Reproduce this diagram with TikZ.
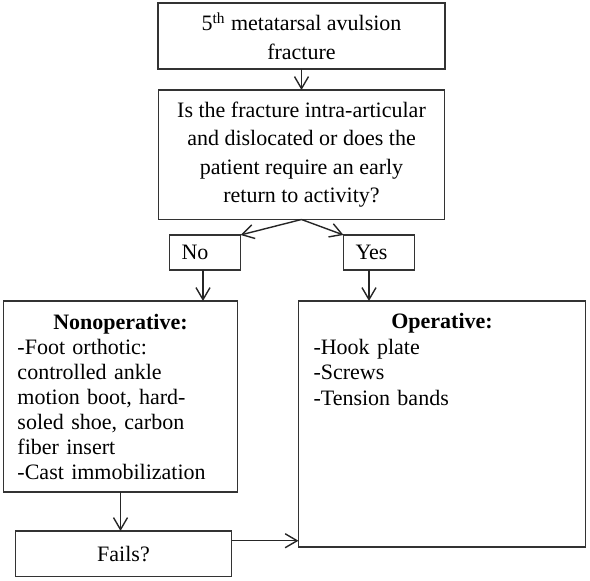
\documentclass[tikz,border=0pt]{standalone}
\usepackage{fontspec}
\setmainfont{Liberation Serif}
\usetikzlibrary{positioning, arrows.meta}

\tikzset{
	box/.style={draw=black!80, line width=0.7pt, outer sep=0pt, font=\fontsize{11pt}{14.2pt}\selectfont},
	arr/.style={draw=black!85, line width=0.7pt, -{Straight Barb[length=6pt, width=7pt]}},
}

\begin{document}
\begin{tikzpicture}
		\useasboundingbox (0,0) rectangle (295pt,-290.5pt);
		\node[] (start) at (150.75pt,-18pt) [box, minimum width=143.5pt, minimum height=33pt, align=center] {5\textsuperscript{th} metatarsal avulsion\\ fracture};
		\node[below=10.5pt of start] (question) [box, minimum width=143pt, minimum height=64.75pt, align=center] {Is the fracture intra-articular\\ and dislocated or does the\\ patient require an early\\ return to activity?};
		\node[below=7.75pt of question, xshift=-48.25pt] (no) [box, minimum width=35.5pt, minimum height=17.5pt, text width=23.5pt, inner xsep=6pt, align=left] {No};
		\node[below=7.75pt of question, xshift=38.75pt] (yes) [box, minimum width=35.5pt, minimum height=17.5pt, text width=23.5pt, inner xsep=5.5pt, align=left] {Yes};
		\node[below=15.5pt of no, xshift=-42.25pt] (nonop) [box, minimum width=117pt, minimum height=95.5pt, text width=103pt, inner xsep=7pt, align=left, font=\fontsize{11pt}{12.5pt}\selectfont] {\hfill\textbf{Nonoperative:}\hfill\null\\ -Foot orthotic:\\ controlled ankle\\ motion boot, hard-\\ soled shoe, carbon\\ fiber insert\\ -Cast immobilization};
		\node[below=15.5pt of yes, xshift=31.5pt] (op) [box, minimum width=143.5pt, minimum height=123pt] {};
		\node[anchor=north, text width=128.5pt, inner xsep=7.5pt, inner ysep=6pt, align=left, font=\fontsize{11pt}{12.8pt}\selectfont] (optext) at (op.north) {\hfill\textbf{Operative:}\hfill\null\\ -Hook plate\\ -Screws\\ -Tension bands};
		\node[below=19.5pt of nonop, xshift=1.5pt] (fails) [box, minimum width=108pt, minimum height=22.75pt] {Fails?};

%		\draw[arr] (question) -- (no);
		\draw[arr] (start) -- (question);
		\draw[arr] (question.south) -- (no.north east);
		\draw[arr] (question.south) -- (yes.north west);
		\draw[arr] ([xshift=-1pt]no.south) -- ([xshift=-1pt]no.south |- nonop.north);
		\draw[arr] ([xshift=-5pt]yes.south) -- ([xshift=-5pt]yes.south |- op.north);
		\draw[arr] (nonop.south) -- (nonop.south |- fails.north);
		\draw[arr] ([yshift=6.5pt]fails.east) -- ([yshift=6.5pt]fails.east -| op.west);
	\end{tikzpicture}
\end{document}
